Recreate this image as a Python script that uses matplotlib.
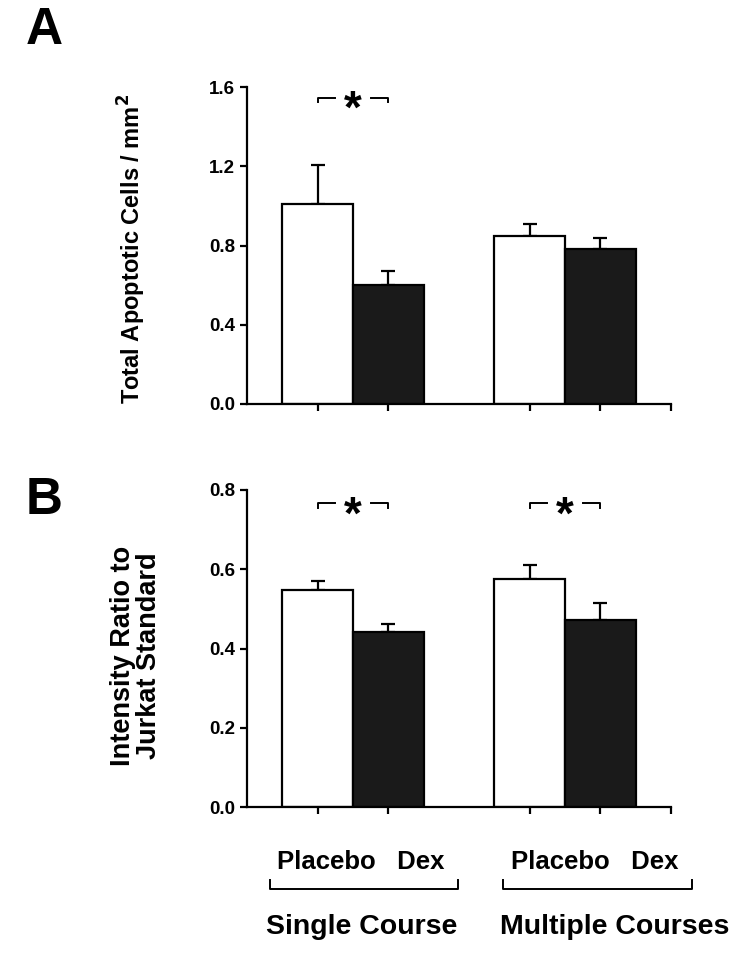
import numpy as np
import matplotlib.pyplot as plt
from matplotlib.lines import Line2D

plt.rcParams['font.family'] = ['Liberation Sans', 'DejaVu Sans']
plt.rcParams['font.weight'] = 'bold'

# bar order: single placebo, single dex, multiple placebo, multiple dex
groups = ["Single Course", "Multiple Courses"]
treatments = ["Placebo", "Dex"]
apoptotic_mean = [1.01, 0.60, 0.85, 0.78]
apoptotic_err = [0.195, 0.07, 0.057, 0.057]
ratio_mean = [0.548, 0.442, 0.576, 0.473]
ratio_err = [0.023, 0.021, 0.035, 0.043]
bar_x = [0, 1, 3, 4]
bar_colors = ["white", "#1a1a1a", "white", "#1a1a1a"]

W, H = 750, 957
fig = plt.figure(figsize=(7.5, 9.57), dpi=100)


def fx(px):
    return px / W


def fy(py):
    return 1 - py / H


def panel(rect, means, errs, ymax, step, stars, star_y):
    ax = fig.add_axes(rect)
    ax.bar(bar_x, means, width=1.0, color=bar_colors, edgecolor="black", linewidth=1.6, zorder=2)
    ax.errorbar(bar_x, means, yerr=[np.zeros(len(errs)), errs], fmt="none",
                ecolor="black", elinewidth=1.6, capsize=5, capthick=1.6, zorder=1)
    ax.set_xlim(-1, 5)
    ax.set_ylim(0, ymax)
    ticks = np.arange(0, ymax + step / 2, step)
    ax.set_yticks(ticks)
    ax.set_yticklabels([f"{v:.1f}" for v in ticks])
    ax.set_xticks([0, 1, 3, 4, 5])
    ax.set_xticklabels([])
    for s in ["top", "right"]:
        ax.spines[s].set_visible(False)
    for s in ["left", "bottom"]:
        ax.spines[s].set_linewidth(1.6)
    ax.tick_params(axis="both", direction="out", length=5, width=1.6, labelsize=13.5)
    # significance brackets
    for g in stars:
        x0, x1 = bar_x[2 * g], bar_x[2 * g + 1]
        xm = (x0 + x1) / 2
        drop = ymax * 0.014
        ax.plot([x0, x0, xm - 0.25], [star_y - drop, star_y, star_y], color="black", lw=1.4, clip_on=False)
        ax.plot([xm + 0.25, x1, x1], [star_y, star_y, star_y - drop], color="black", lw=1.4, clip_on=False)
        ax.annotate("*", (xm, star_y), xytext=(0, -18), textcoords="offset points",
                    ha="center", va="baseline", fontsize=33, fontweight="bold")
    return ax


axA = panel([fx(247), fy(404), fx(671 - 247), (404 - 87) / H],
            apoptotic_mean, apoptotic_err, 1.6, 0.4, [0], 1.545)
axB = panel([fx(247), fy(807), fx(671 - 247), (807 - 490) / H],
            ratio_mean, ratio_err, 0.8, 0.2, [0, 1], 0.766)

fig.text(fx(132), fy(249), "Total Apoptotic Cells / mm$^{\\mathbf{2}}$", rotation=90,
         ha="center", va="center", fontsize=17, fontweight="bold")
fig.text(fx(136), fy(656), "Intensity Ratio to\nJurkat Standard", rotation=90,
         ha="center", va="center", fontsize=19.5, fontweight="bold", linespacing=0.98)

fig.text(fx(26), fy(31), "A", ha="left", va="center", fontsize=37, fontweight="bold")
fig.text(fx(26), fy(501), "B", ha="left", va="center", fontsize=37, fontweight="bold")

# group labels with brackets below panel B
brackets = [(270, 458), (503, 692)]
label_centers = [(361, 362), (595, 615)]
for (x0, x1), (xt, xg), grp in zip(brackets, label_centers, groups):
    fig.text(fx(xt), fy(862), "   ".join(treatments), ha="center", va="center",
             fontsize=18.5, fontweight="bold")
    fig.add_artist(Line2D([fx(x0), fx(x0), fx(x1), fx(x1)],
                          [fy(880), fy(889), fy(889), fy(880)], color="black", lw=1.4))
    fig.text(fx(xg), fy(927), grp, ha="center", va="center", fontsize=20.5, fontweight="bold")

fig.savefig("out.png", dpi=100, facecolor="white")
